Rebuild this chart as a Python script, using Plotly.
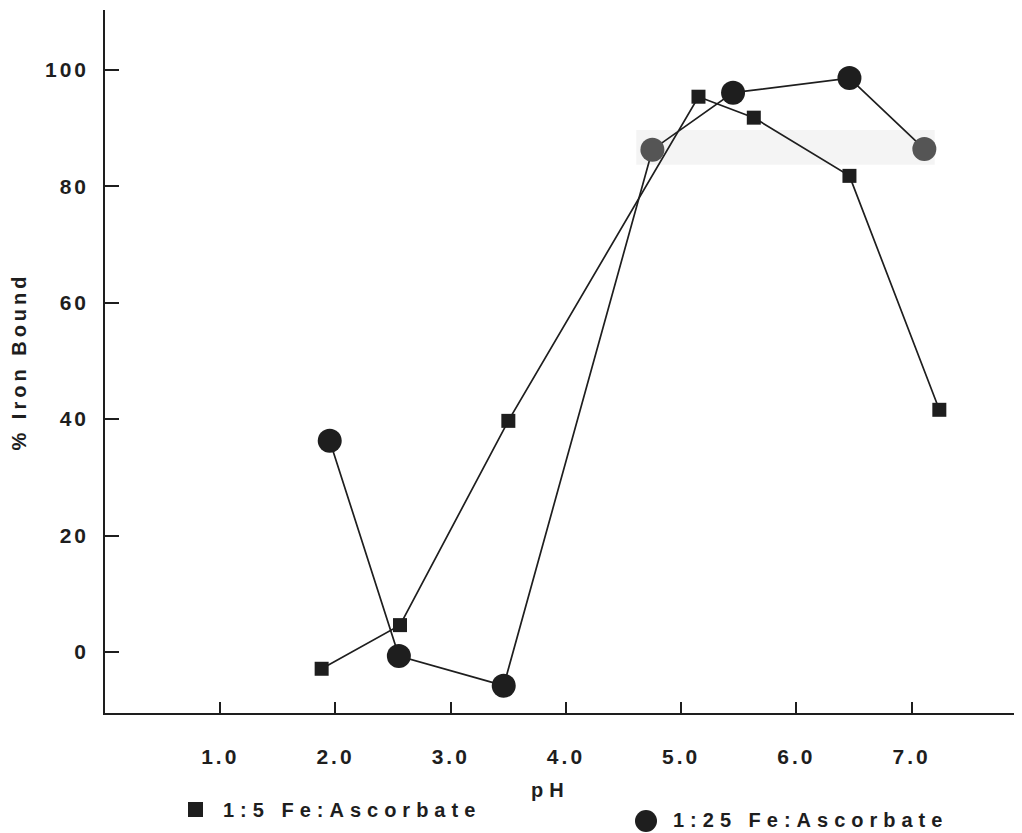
import plotly.graph_objects as go

# Data
ph_15 = [1.88, 2.56, 3.50, 5.15, 5.63, 6.46, 7.24]
bound_15 = [-2.9, 4.6, 39.7, 95.4, 91.8, 81.8, 41.6]

ph_125 = [1.95, 2.55, 3.46, 4.75, 5.45, 6.46, 7.11]
bound_125 = [36.3, -0.7, -5.8, 86.3, 96.1, 98.6, 86.4]

x_ticks = [1, 2, 3, 4, 5, 6, 7]
x_ticktext = ["1.0", "2.0", "3.0", "4.0", "5.0", "6.0", "7.0"]
y_ticks = [0, 20, 40, 60, 80, 100]

FONT = "Liberation Sans, Arial, sans-serif"
INK = "#1e1e1e"

# plot area in page pixels (page has 8px body margin)
PX0, PX1, PY0, PY1 = 105, 1020, 10, 713
W = PX1 - PX0
H = PY1 - PY0

def px(x):
    return (x - PX0) / W

def py(y):
    return (PY1 - y) / H

fig = go.Figure()

fig.add_trace(go.Scatter(
    x=ph_15, y=bound_15, mode="lines+markers", name="1:5 Fe:Ascorbate",
    line=dict(color=INK, width=1.7),
    marker=dict(symbol="square", size=14, color=INK),
    showlegend=False,
))
fig.add_trace(go.Scatter(
    x=ph_125, y=bound_125, mode="lines+markers", name="1:25 Fe:Ascorbate",
    line=dict(color=INK, width=1.7),
    marker=dict(symbol="circle", size=24,
                color=[INK, INK, INK, "#555555", INK, INK, "#555555"]),
    showlegend=False,
))

# faint scan band behind the top of the curves
fig.add_shape(type="rect", x0=4.61, x1=7.2, y0=83.7, y1=89.7,
              fillcolor="#f4f4f4", line=dict(width=0), layer="below")

def spaced(t, s=4):
    return f'<span style="letter-spacing:{s}px">{t}</span>'

fig.update_layout(
    width=1022, height=833,
    margin=dict(l=PX0 - 8, r=1022 - (PX1 - 8), t=PY0 - 8, b=833 - (PY1 - 8)),
    paper_bgcolor="white", plot_bgcolor="white",
    font=dict(family=FONT, size=20, color=INK),
    xaxis=dict(
        range=[0, 7.94], tickvals=x_ticks,
        ticktext=[spaced(t, 3) for t in x_ticktext],
        ticks="inside", ticklen=11, tickwidth=1.5, tickcolor=INK,
        showline=True, linecolor=INK, linewidth=1.5,
        showgrid=False, zeroline=False,
        tickfont=dict(family=FONT, size=21, color=INK, weight="bold"),
        ticklabelstandoff=24,
    ),
    yaxis=dict(
        range=[-10.5, 110.3], tickvals=y_ticks,
        ticktext=[spaced(str(v), 3) for v in y_ticks],
        ticks="inside", ticklen=14, tickwidth=1.5, tickcolor=INK,
        showline=True, linecolor=INK, linewidth=1.5,
        showgrid=False, zeroline=False,
        tickfont=dict(family=FONT, size=21, color=INK, weight="bold"),
        ticklabelstandoff=10,
        title=dict(text=spaced("% Iron Bound", 4),
                   font=dict(family=FONT, size=20, color=INK, weight="bold"),
                   standoff=14),
    ),
)

# x-axis title
fig.add_annotation(xref="paper", yref="paper", x=px(550), y=py(790),
                   text=spaced("pH", 6), showarrow=False,
                   font=dict(family=FONT, size=20, color=INK, weight="bold"),
                   xanchor="center", yanchor="middle")

# legend keys
fig.add_shape(type="rect", xref="paper", yref="paper",
              x0=px(188), x1=px(203), y0=py(817), y1=py(802),
              fillcolor=INK, line=dict(width=0))
fig.add_shape(type="circle", xref="paper", yref="paper",
              x0=px(635), x1=px(657), y0=py(832), y1=py(810),
              fillcolor=INK, line=dict(width=0))

# legend texts
fig.add_annotation(xref="paper", yref="paper", x=px(221), y=py(810),
                   text=spaced("1:5 Fe:Ascorbate", 6), showarrow=False,
                   font=dict(family=FONT, size=20, color=INK, weight="bold"),
                   xanchor="left", yanchor="middle")
fig.add_annotation(xref="paper", yref="paper", x=px(671), y=py(820),
                   text=spaced("1:25 Fe:Ascorbate", 6), showarrow=False,
                   font=dict(family=FONT, size=20, color=INK, weight="bold"),
                   xanchor="left", yanchor="middle")

fig.write_html("out.html")
